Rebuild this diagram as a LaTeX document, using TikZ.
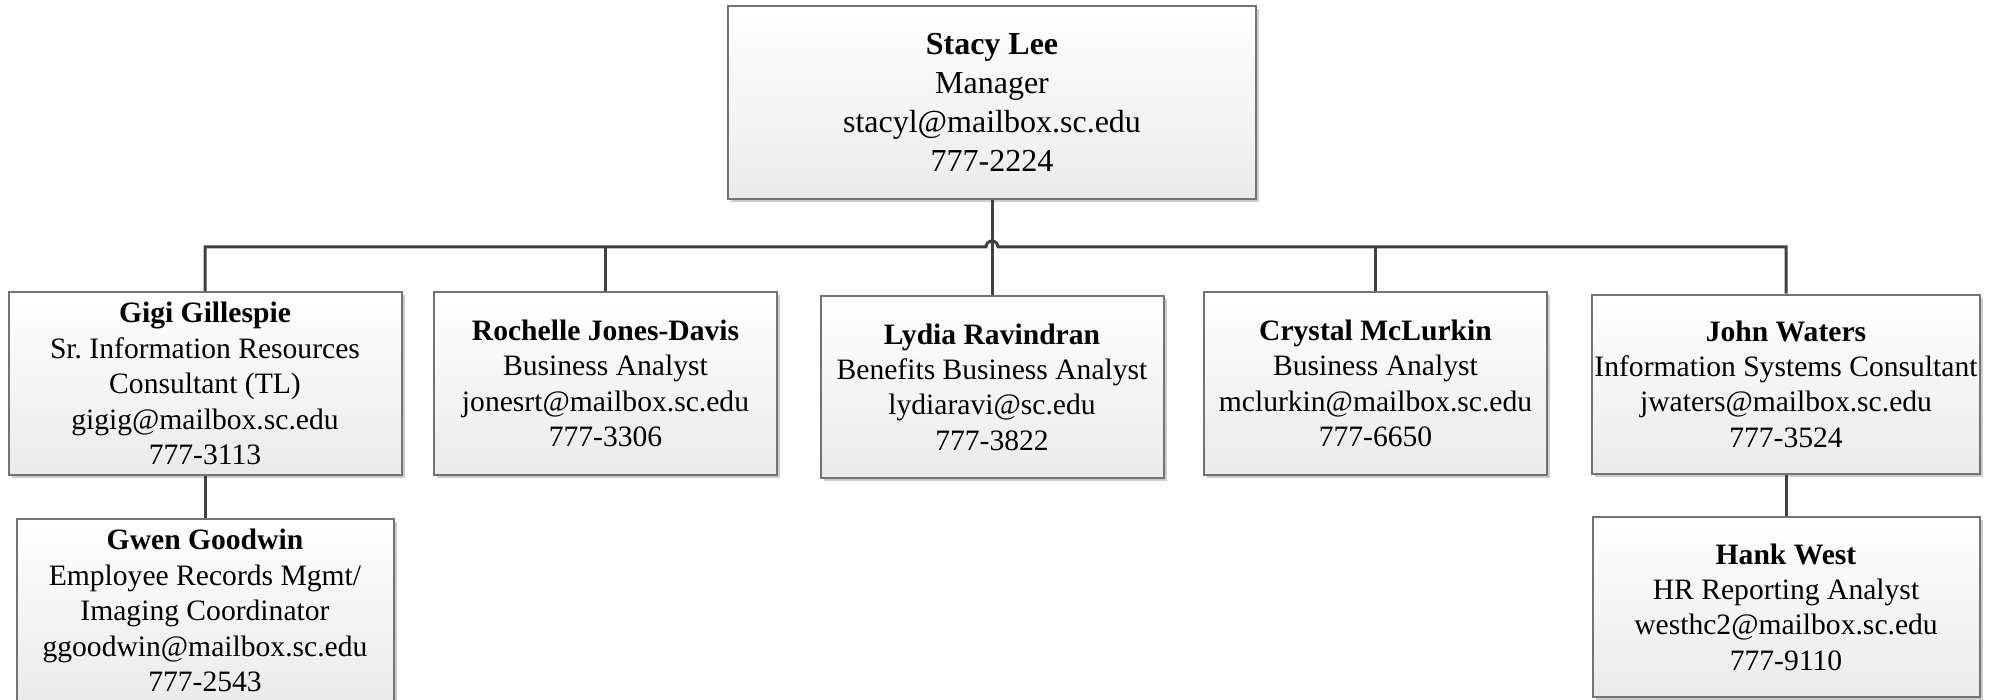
\documentclass[tikz,border=0pt]{standalone}
\usepackage{fontspec}
\setmainfont{Liberation Serif}
\usepackage{tikz}
\usetikzlibrary{shadows}

\tikzset{
    person/.style={draw=black!55, line width=1pt, top color=white, bottom color=black!8,
        drop shadow={shadow xshift=1.5pt, shadow yshift=-1.5pt, fill=black!20, opacity=1},
        align=center, inner sep=0pt, font=\fontsize{14.8}{17.7}\selectfont},
    bossbox/.style={person, font=\fontsize{16}{19.5}\selectfont},
    link/.style={draw=black!75, line width=1.5pt}
}

\begin{document}
\frenchspacing
\begin{tikzpicture}[x=0.5pt, y=0.5pt]
        \useasboundingbox (0,0) rectangle (1990,-700);

        \node (boss) at (992,-102.5) [bossbox, minimum width=264pt, minimum height=96.5pt]
            {\textbf{Stacy Lee}\\Manager\\stacyl@mailbox.sc.edu\\777-2224};

        \node (gigi) at (205,-383.5) [person, minimum width=196.5pt, minimum height=91.5pt]
            {\textbf{Gigi Gillespie}\\Sr. Information Resources\\Consultant (TL)\\gigig@mailbox.sc.edu\\777-3113};
        \node (rochelle) at (605.5,-383.5) [person, minimum width=171.5pt, minimum height=91.5pt]
            {\textbf{Rochelle Jones-Davis}\\Business Analyst\\jonesrt@mailbox.sc.edu\\777-3306};
        \node (lydia) at (992,-387) [person, minimum width=171.5pt, minimum height=91pt]
            {\textbf{Lydia Ravindran}\\Benefits Business Analyst\\lydiaravi@sc.edu\\777-3822};
        \node (crystal) at (1375.5,-383.5) [person, minimum width=171.5pt, minimum height=91.5pt]
            {\textbf{Crystal McLurkin}\\Business Analyst\\mclurkin@mailbox.sc.edu\\777-6650};
        \node (john) at (1786,-384) [person, minimum width=194pt, minimum height=89.5pt]
            {\textbf{John Waters}\\Information Systems Consultant\\jwaters@mailbox.sc.edu\\777-3524};

        \node (gwen) at (205,-610.5) [person, minimum width=188.5pt, minimum height=91.5pt]
            {\textbf{Gwen Goodwin}\\Employee Records Mgmt/\\Imaging Coordinator\\ggoodwin@mailbox.sc.edu\\777-2543};
        \node (hank) at (1786,-607) [person, minimum width=193.5pt, minimum height=90pt]
            {\textbf{Hank West}\\HR Reporting Analyst\\westhc2@mailbox.sc.edu\\777-9110};

        \coordinate (hop) at (992,-247);

        \draw [link] (boss.south) -- (lydia.north);
        \draw [link] (gigi.north) |- ([xshift=-3pt]hop) arc[start angle=180, end angle=0, radius=3pt] -| (john.north);
        \draw [link] (rochelle.north) -- (rochelle.north |- hop);
        \draw [link] (crystal.north) -- (crystal.north |- hop);
        \draw [link] (gigi.south) -- (gwen.north);
        \draw [link] (john.south) -- (hank.north);
    \end{tikzpicture}
\end{document}
